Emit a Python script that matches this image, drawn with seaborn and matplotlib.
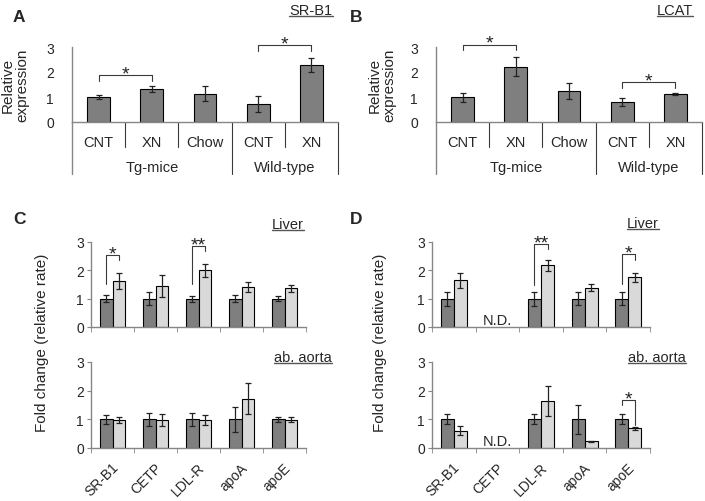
import numpy as np
import pandas as pd
import seaborn as sns
import matplotlib.pyplot as plt
import matplotlib.transforms as mtransforms
from matplotlib.lines import Line2D

# ---- data ----
# panels A / B (relative expression)
ab_keys = ['Tg CNT', 'Tg XN', 'Tg Chow', 'WT CNT', 'WT XN']
ab_labels = ['CNT', 'XN', 'Chow', 'CNT', 'XN']
ab_groups = ['Tg-mice', 'Wild-type']
srb1_mean = [1.00, 1.33, 1.13, 0.73, 2.29]
srb1_err = [0.09, 0.11, 0.30, 0.33, 0.28]
lcat_mean = [1.00, 2.21, 1.24, 0.80, 1.12]
lcat_err = [0.18, 0.38, 0.32, 0.16, 0.05]

# panels C / D (fold change), control vs XN
genes = ['SR-B1', 'CETP', 'LDL-R', 'apoA', 'apoE']
treat = ['Control', 'XN']
nan = np.nan
c_liver_ctrl = [1.00, 1.00, 1.00, 1.00, 1.00]
c_liver_ctrl_err = [0.12, 0.24, 0.10, 0.12, 0.09]
c_liver_xn = [1.62, 1.45, 2.00, 1.41, 1.36]
c_liver_xn_err = [0.28, 0.39, 0.24, 0.19, 0.12]
c_aorta_ctrl = [1.00, 1.00, 1.00, 1.00, 1.00]
c_aorta_ctrl_err = [0.16, 0.23, 0.22, 0.44, 0.09]
c_aorta_xn = [0.97, 0.98, 0.97, 1.72, 0.99]
c_aorta_xn_err = [0.10, 0.21, 0.18, 0.55, 0.10]
d_liver_ctrl = [1.00, nan, 1.00, 1.00, 1.00]
d_liver_ctrl_err = [0.25, nan, 0.25, 0.22, 0.24]
d_liver_xn = [1.65, nan, 2.18, 1.39, 1.75]
d_liver_xn_err = [0.26, nan, 0.19, 0.13, 0.15]
d_aorta_ctrl = [1.00, nan, 1.00, 1.00, 1.00]
d_aorta_ctrl_err = [0.17, nan, 0.17, 0.50, 0.17]
d_aorta_xn = [0.61, nan, 1.63, 0.23, 0.69]
d_aorta_xn_err = [0.16, nan, 0.52, 0.03, 0.06]

# significance brackets
# A/B: (x1, x2, top, leg bottom, label)
a_brackets = [(0, 1, 1.87, 1.63, '*'), (3, 4, 3.07, 2.83, '*')]
b_brackets = [(0, 1, 3.09, 2.87, '*'), (3, 4, 1.60, 1.36, '*')]
# C/D: (gene index, top, left leg bottom, right leg bottom, label)
c_liver_brackets = [(0, 2.53, 1.52, 2.35, '*'), (2, 2.86, 1.52, 2.68, '**')]
d_liver_brackets = [(2, 2.92, 1.48, 2.74, '**'), (4, 2.56, 1.52, 2.37, '*')]
d_aorta_brackets = [(4, 1.66, 1.49, 0.79, '*')]

DARK = '#7f7f7f'
LIGHT = '#d9d9d9'
SPINE = '#868686'
LINE = '#3a3a3a'

sns.set_style('white')
plt.rcParams['font.family'] = ['Liberation Sans', 'DejaVu Sans']

W, H = 705, 502
fig = plt.figure(figsize=(7.05, 5.02), dpi=100)


def box(l, t, r, b):
    return [l / W, 1 - b / H, (r - l) / W, (b - t) / H]


def px_offset(ax, dy):
    # blended x-data / y-axes transform shifted down by dy pixels
    return (mtransforms.blended_transform_factory(ax.transData, ax.transAxes)
            + mtransforms.ScaledTranslation(0, -dy / 100, fig.dpi_scale_trans))


def star(ax, x, y, s):
    ax.annotate(s, (x, y), xytext=(0, -2.3), textcoords='offset points',
                ha='center', va='baseline', fontsize=14, color='#222222',
                annotation_clip=False)


def style_axes(ax):
    sns.despine(ax=ax)
    for side in ['left', 'bottom']:
        ax.spines[side].set_color(SPINE)
        ax.spines[side].set_linewidth(1.0)
    ax.set_ylim(0, 3)
    ax.set_yticks([0, 1, 2, 3])
    ax.set_xlim(-0.5, 4.5)
    ax.set_xlabel('')
    ax.set_ylabel('')


def group_panel(ax, means, errs, brackets):
    df = pd.DataFrame({'cond': ab_keys, 'value': means, 'err': errs})
    sns.barplot(data=df, x='cond', y='value', order=ab_keys, color=DARK,
                saturation=1, width=0.43, edgecolor='black', linewidth=0.8,
                errorbar=None, ax=ax)
    for p in ax.patches:
        cx = p.get_x() + p.get_width() / 2
        i = int(round(cx))
        ax.errorbar(cx, p.get_height(), yerr=df['err'][i], fmt='none',
                    ecolor='#222222', elinewidth=0.9, capsize=2, capthick=0.9)
    style_axes(ax)
    ax.tick_params(axis='y', direction='in', length=3.5, color=SPINE,
                   pad=13, labelsize=10)
    ax.set_xticks([])
    blend = mtransforms.blended_transform_factory(ax.transData, ax.transAxes)
    # category separators below the axis
    for xb in [0.5, 1.5, 3.5]:
        ax.plot([xb, xb], [0, -25 / 75], transform=blend,
                color=LINE, lw=0.8, clip_on=False)
    for xb in [-0.5, 2.5, 4.5]:
        ax.plot([xb, xb], [0, -52 / 75], transform=blend,
                color=LINE if xb != -0.5 else SPINE,
                lw=0.8 if xb != -0.5 else 1.0, clip_on=False)
    for i, lab in enumerate(ab_labels):
        ax.text(i, 0, lab, transform=px_offset(ax, 24), ha='center',
                va='baseline', fontsize=10.5)
    ax.text(1, 0, ab_groups[0], transform=px_offset(ax, 49), ha='center',
            va='baseline', fontsize=10.5)
    ax.text(3.5, 0, ab_groups[1], transform=px_offset(ax, 49), ha='center',
            va='baseline', fontsize=10.5)
    for x1, x2, top, low, s in brackets:
        ax.plot([x1, x1, x2, x2], [low, top, top, low], color=LINE, lw=0.8,
                clip_on=False)
        star(ax, (x1 + x2) / 2, top, s)


def gene_panel(ax, ctrl, ctrl_err, xn, xn_err, brackets, labels=False,
               nd=False):
    df = pd.DataFrame({'gene': genes * 2,
                       'treat': [treat[0]] * 5 + [treat[1]] * 5,
                       'value': ctrl + xn,
                       'err': ctrl_err + xn_err}).dropna()
    sns.barplot(data=df, x='gene', y='value', hue='treat', order=genes,
                hue_order=treat, palette=[DARK, LIGHT], saturation=1,
                width=0.6, edgecolor='black', linewidth=0.8, errorbar=None,
                legend=False, ax=ax)
    for p in ax.patches:
        cx = p.get_x() + p.get_width() / 2
        i = int(round(cx))
        t = treat[0] if cx < i else treat[1]
        e = df[(df['gene'] == genes[i]) & (df['treat'] == t)]['err'].iloc[0]
        ax.errorbar(cx, p.get_height(), yerr=e, fmt='none', ecolor='#222222',
                    elinewidth=0.9, capsize=2, capthick=0.9)
    style_axes(ax)
    ax.tick_params(axis='y', direction='out', length=3, color=SPINE,
                   pad=2, labelsize=10, left=True)
    ax.set_xticks(np.arange(-0.5, 5, 1), minor=True)
    ax.tick_params(axis='x', which='minor', direction='out', length=3.5,
                   color=SPINE, bottom=True)
    if labels:
        ax.set_xticks(range(len(genes)), genes)
        ax.tick_params(axis='x', which='major', length=0, pad=12,
                       labelsize=10)
        for lab in ax.get_xticklabels():
            lab.set_rotation(45)
            lab.set_ha('right')
            lab.set_va('center')
            lab.set_rotation_mode('anchor')
            lab.set_transform(lab.get_transform() + mtransforms.ScaledTranslation(
                4 / 100, 0, fig.dpi_scale_trans))
    else:
        ax.set_xticks(range(len(genes)), [''] * len(genes))
        ax.tick_params(axis='x', which='major', length=0)
    if nd:
        ax.text(1, 0.1, 'N.D.', ha='center', va='baseline', fontsize=10.5)
    for i, top, lo1, lo2, s in brackets:
        x1, x2 = i - 0.15, i + 0.15
        ax.plot([x1, x1, x2, x2], [lo1, top, top, lo2], color=LINE, lw=0.8,
                clip_on=False)
        star(ax, (x1 + x2) / 2, top, s)


ax_a = fig.add_axes(box(72, 48, 338, 123))
ax_b = fig.add_axes(box(436, 48, 702, 123))
ax_c1 = fig.add_axes(box(91, 243, 306, 328))
ax_c2 = fig.add_axes(box(91, 363, 306, 449))
ax_d1 = fig.add_axes(box(432, 243, 650, 328))
ax_d2 = fig.add_axes(box(432, 363, 650, 449))

group_panel(ax_a, srb1_mean, srb1_err, a_brackets)
group_panel(ax_b, lcat_mean, lcat_err, b_brackets)
gene_panel(ax_c1, c_liver_ctrl, c_liver_ctrl_err, c_liver_xn, c_liver_xn_err,
           c_liver_brackets)
gene_panel(ax_c2, c_aorta_ctrl, c_aorta_ctrl_err, c_aorta_xn, c_aorta_xn_err,
           [], labels=True)
gene_panel(ax_d1, d_liver_ctrl, d_liver_ctrl_err, d_liver_xn, d_liver_xn_err,
           d_liver_brackets, nd=True)
gene_panel(ax_d2, d_aorta_ctrl, d_aorta_ctrl_err, d_aorta_xn, d_aorta_xn_err,
           d_aorta_brackets, labels=True, nd=True)


# figure-level text
def ftext(x, y, s, **kw):
    return fig.text(x / W, 1 - y / H, s, **kw)


for x, y, s in [(19, 18, 'A'), (356, 18, 'B'), (19, 219, 'C'), (356, 219, 'D')]:
    ftext(x, y, s, ha='center', va='center', fontsize=12.5, fontweight='bold')

ftext(15, 85, 'Relative\nexpression', ha='center', va='center', rotation=90,
      fontsize=11, linespacing=1.0)
ftext(382, 85, 'Relative\nexpression', ha='center', va='center', rotation=90,
      fontsize=11, linespacing=1.0)
ftext(42, 343, 'Fold change (relative rate)', ha='center', va='center',
      rotation=90, fontsize=11)
ftext(380, 343, 'Fold change (relative rate)', ha='center', va='center',
      rotation=90, fontsize=11)

titles = [ftext(311, 15, 'SR-B1', ha='center', va='baseline', fontsize=10.5),
          ftext(675, 15, 'LCAT', ha='center', va='baseline', fontsize=10.5),
          ftext(288, 229, 'Liver', ha='center', va='baseline', fontsize=10.5),
          ftext(303, 362, 'ab. aorta', ha='center', va='baseline', fontsize=10.5),
          ftext(643, 228, 'Liver', ha='center', va='baseline', fontsize=10.5),
          ftext(657, 362, 'ab. aorta', ha='center', va='baseline', fontsize=10.5)]

# underline the titles
renderer = fig.canvas.get_renderer()
for t in titles:
    bb = t.get_window_extent(renderer)
    yline = bb.y0 + 1
    fig.add_artist(Line2D([bb.x0 / W, bb.x1 / W], [yline / H, yline / H],
                          color='#555555', lw=1.0))

fig.savefig('out.png', dpi=100)
